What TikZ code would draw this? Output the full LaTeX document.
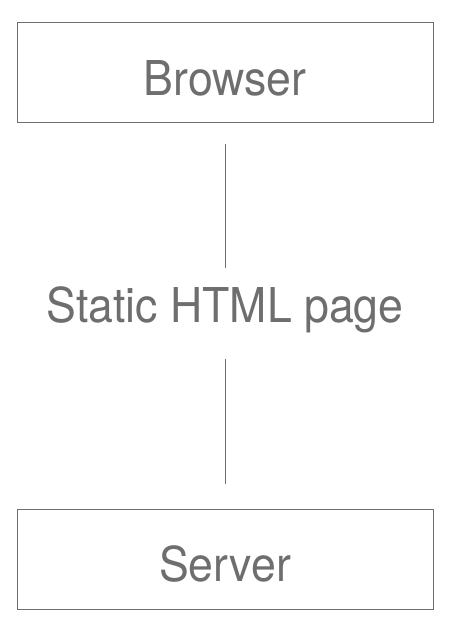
\documentclass[tikz,border=0pt]{standalone}
\usepackage{fontspec}
\setmainfont[FakeStretch=0.93]{TeX Gyre Heros}
\begin{document}
\begin{tikzpicture}[x=1pt,y=-1pt,
  ink/.style={draw=black!57,line width=1pt},
  boxnode/.style={ink,minimum width=416pt,minimum height=100pt,inner sep=0pt,anchor=north west},
  label/.style={text=black!57,inner sep=0pt,anchor=base,font=\fontsize{48}{56}\selectfont}]
  \useasboundingbox (0,0) rectangle (450,626);
  \node[boxnode] (browser) at (17,22) {};
  \node[label] (browsertext) at (225,95.5) {Browser};
  \node[boxnode] (server) at (17,509) {};
  \node[label] (servertext) at (225,581) {Server};
  \node[label] (page) at (225,322) {Static HTML page};
  \coordinate (a1) at (225,144);
  \coordinate (a2) at (225,268);
  \coordinate (b1) at (225,359);
  \coordinate (b2) at (225,484);
  \draw[ink] (a1) -- (a2);
  \draw[ink] (b1) -- (b2);
\end{tikzpicture}
\end{document}
